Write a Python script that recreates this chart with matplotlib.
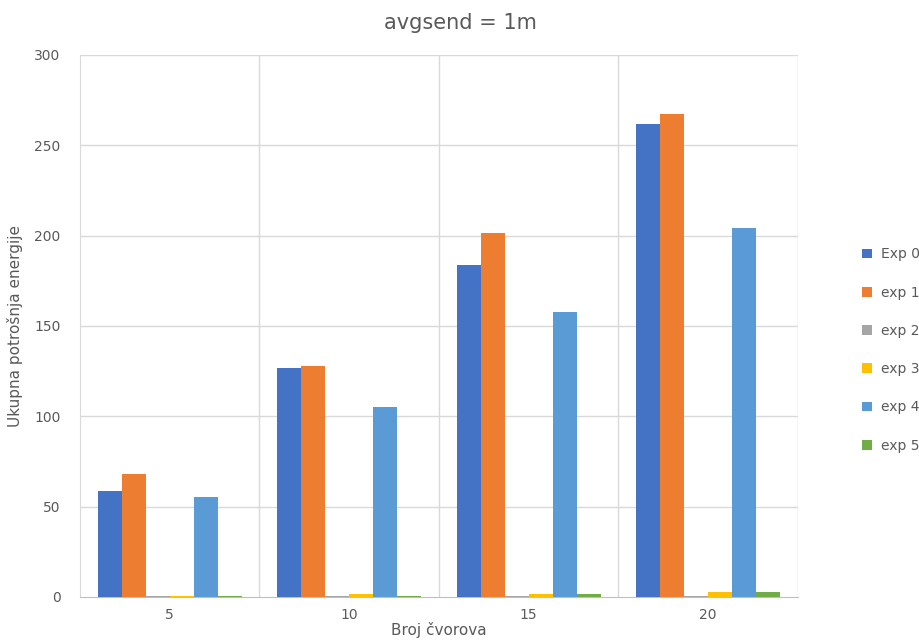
import matplotlib
matplotlib.use("Agg")
import matplotlib.pyplot as plt
import numpy as np
from matplotlib.patches import Patch

categories = ["5", "10", "15", "20"]
series_names = ["Exp 0", "exp 1", "exp 2", "exp 3", "exp 4", "exp 5"]
exp0 = [58.7, 126.8, 183.5, 261.8]
exp1 = [68.2, 128.0, 201.6, 267.6]
exp2 = [0.5, 0.5, 0.5, 0.5]
exp3 = [0.5, 1.5, 1.5, 3.0]
exp4 = [55.3, 105.0, 157.5, 204.5]
exp5 = [0.7, 0.7, 1.8, 2.5]
yticks = [0, 50, 100, 150, 200, 250, 300]

colors = ["#4472C4", "#ED7D31", "#A5A5A5", "#FFC000", "#5B9BD5", "#70AD47"]
data = [exp0, exp1, exp2, exp3, exp4, exp5]

fig = plt.figure(figsize=(9.2, 6.44), dpi=100)
ax = fig.add_axes([80/920, 47/644, 718/920, 542/644])

x = np.arange(len(categories))
w = 0.8 / 6
for i, (vals, c) in enumerate(zip(data, colors)):
    ax.bar(x - 0.4 + w * (i + 0.5), vals, width=w, color=c, zorder=3)

ax.set_xlim(-0.5, 3.5)
ax.set_ylim(0, 300)
ax.set_yticks(yticks)
ax.set_xticks(x)
ax.set_xticklabels(categories)
ax.tick_params(axis="both", length=0, labelsize=10, colors="#595959", pad=8)
ax.tick_params(axis="y", pad=14)

for yv in yticks[1:]:
    ax.axhline(yv, color="#D9D9D9", lw=1, zorder=1)
for xv in [0.5, 1.5, 2.5, 3.5]:
    ax.axvline(xv, color="#D9D9D9", lw=1, zorder=1)

for s in ["top", "right"]:
    ax.spines[s].set_visible(False)
ax.spines["left"].set_color("#D9D9D9")
ax.spines["bottom"].set_color("#BFBFBF")

ax.set_xlabel("Broj čvorova", fontsize=11, color="#595959", labelpad=0)
ax.set_ylabel("Ukupna potrošnja energije", fontsize=11, color="#595959", labelpad=8)
fig.text(0.5, 0.965, "avgsend = 1m", ha="center", va="center", fontsize=15, color="#595959")

handles = [Patch(facecolor=c, edgecolor="none") for c in colors]
fig.legend(handles, series_names, loc="center left", bbox_to_anchor=(850/920, 1 - 350/644),
           frameon=False, fontsize=10, labelcolor="#595959", labelspacing=1.75,
           handlelength=0.7, handleheight=0.7, handletextpad=0.6)

fig.savefig("out.png", dpi=100)
